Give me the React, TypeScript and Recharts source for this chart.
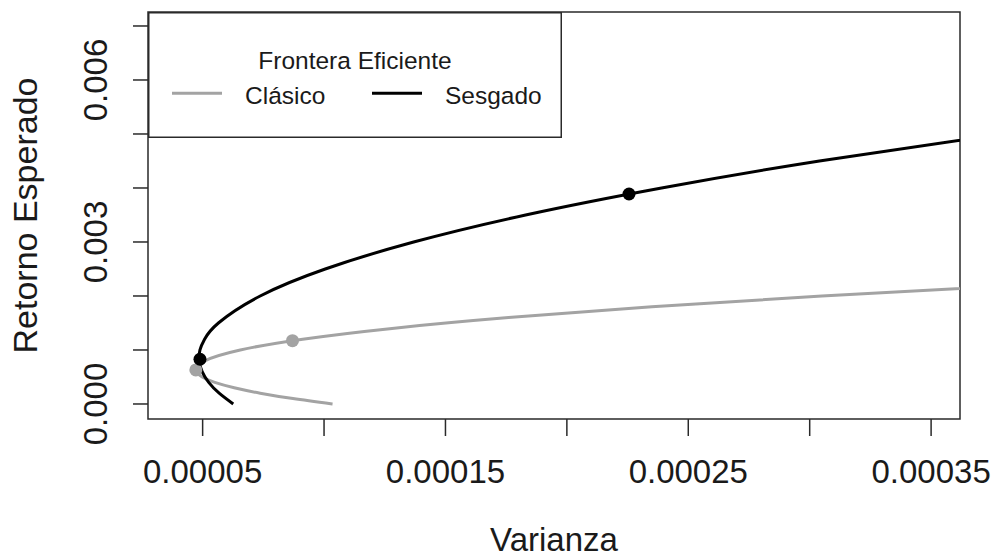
import React from "react";
import { ComposedChart, Line, Scatter, XAxis, YAxis, Legend, ReferenceArea } from "recharts";

// Frontera eficiente: [varianza, retorno esperado]
const clasicoVar = [0.0001035, 0.0000872, 0.0000737, 0.000063, 0.000055, 0.0000498, 0.0000472, 0.0000509, 0.0000655, 0.0000912, 0.000128, 0.000176, 0.000235, 0.000305, 0.000386];
const clasicoRet = [0, 0.0001, 0.0002, 0.0003, 0.0004, 0.0005, 0.00063, 0.0008, 0.001, 0.0012, 0.0014, 0.0016, 0.0018, 0.002, 0.0022];

const sesgadoVar = [0.0000626, 0.0000568, 0.0000525, 0.0000498, 0.0000486, 0.0000489, 0.0000508, 0.0000565, 0.0000737, 0.0001005, 0.0001369, 0.000183, 0.000239, 0.000304, 0.000379];
const sesgadoRet = [0, 0.0002, 0.0004, 0.0006, 0.0008, 0.001, 0.0012, 0.0015, 0.002, 0.0025, 0.003, 0.0035, 0.004, 0.0045, 0.005];

// carteras marcadas (mínima varianza y tangente)
const clasicoPtsVar = [0.0000472, 0.000087];
const clasicoPtsRet = [0.00063, 0.001172];
const sesgadoPtsVar = [0.0000489, 0.0002256];
const sesgadoPtsRet = [0.000828, 0.003889];

const xTicks = [0.00005, 0.0001, 0.00015, 0.0002, 0.00025, 0.0003, 0.00035];
const xTickLabels = ["0.00005", "", "0.00015", "", "0.00025", "", "0.00035"];
const yTicks = [0, 0.001, 0.002, 0.003, 0.004, 0.005, 0.006, 0.007];
const yTickLabels = ["0.000", "", "", "0.003", "", "", "0.006", ""];

const seriesNames = ["Clásico", "Sesgado"];
const legendTitle = "Frontera Eficiente";

const X_MIN = 0.0000275;
const X_MAX = 0.0003619;
const Y_MIN = -0.000278;
const Y_MAX = 0.007259;

const GRAY = "#a3a3a3";
const BLACK = "#000000";
const AXIS = "#2a2a2a";
const FONT = "'Liberation Sans', Arial, Helvetica, sans-serif";

const toPoints = (xs: number[], ys: number[]) => xs.map((x, i) => ({ x, y: ys[i] }));

const clasicoData = toPoints(clasicoVar, clasicoRet);
const sesgadoData = toPoints(sesgadoVar, sesgadoRet);
const clasicoPts = toPoints(clasicoPtsVar, clasicoPtsRet);
const sesgadoPts = toPoints(sesgadoPtsVar, sesgadoPtsRet);

function XTick(props: any) {
  const { x, y, payload } = props;
  const label = xTickLabels[xTicks.indexOf(payload.value)];
  if (!label) return null;
  return (
    <text x={x} y={y + 47} textAnchor="middle" fontSize={33} fontFamily={FONT} fill="#1a1a1a">
      {label}
    </text>
  );
}

function YTick(props: any) {
  const { x, y, payload } = props;
  const label = yTickLabels[yTicks.indexOf(payload.value)];
  if (!label) return null;
  const bx = x - 26;
  return (
    <text x={bx} y={y} transform={`rotate(-90, ${bx}, ${y})`} textAnchor="middle" fontSize={33} fontFamily={FONT} fill="#1a1a1a">
      {label}
    </text>
  );
}

const dot = (color: string) => (p: any) => <circle cx={p.cx} cy={p.cy} r={6.5} fill={color} />;

function LegendBox(props: any) {
  const items = (props.payload || []).filter((d: any) => d.type !== "none");
  return (
    <svg width={414} height={126} style={{ display: "block" }}>
      <rect x={0.75} y={0.75} width={412.5} height={124.5} fill="#fff" stroke={AXIS} strokeWidth={1.5} />
      <text x={207} y={57.3} textAnchor="middle" fontSize={24.5} fontFamily={FONT} fill="#1a1a1a">
        {legendTitle}
      </text>
      {items.map((d: any, i: number) => (
        <g key={d.value}>
          <line x1={24 + i * 200} x2={74 + i * 200} y1={81.3} y2={81.3} stroke={d.color} strokeWidth={3} />
          <text x={97 + i * 200} y={92} fontSize={24.5} fontFamily={FONT} fill="#1a1a1a">
            {d.value}
          </text>
        </g>
      ))}
    </svg>
  );
}

export default function App() {
  return (
    <div style={{ position: "absolute", left: 0, top: 0, width: 993, height: 558, background: "#fff" }}>
      <ComposedChart width={993} height={558} margin={{ top: 12, right: 33, bottom: 0, left: 0 }}>
        <XAxis
          type="number"
          dataKey="x"
          domain={[X_MIN, X_MAX]}
          allowDataOverflow
          ticks={xTicks}
          interval={0}
          height={139}
          tickSize={17}
          tickMargin={0}
          axisLine={false}
          tickLine={{ stroke: AXIS, strokeWidth: 1.5 }}
          tick={<XTick />}
          label={(p: any) => {
            const vb = p.viewBox || { x: 148, y: 419, width: 812 };
            return (
              <text x={vb.x + vb.width / 2} y={vb.y + 132} textAnchor="middle" fontSize={33} fontFamily={FONT} fill="#1a1a1a">
                Varianza
              </text>
            );
          }}
        />
        <YAxis
          type="number"
          dataKey="y"
          domain={[Y_MIN, Y_MAX]}
          allowDataOverflow
          ticks={yTicks}
          interval={0}
          width={148}
          tickSize={15}
          tickMargin={0}
          axisLine={false}
          tickLine={{ stroke: AXIS, strokeWidth: 1.5 }}
          tick={<YTick />}
          label={(p: any) => {
            const vb = p.viewBox || { x: 0, y: 12, height: 407 };
            const cy = vb.y + vb.height / 2;
            return (
              <text x={37} y={cy} transform={`rotate(-90, 37, ${cy})`} textAnchor="middle" fontSize={34} fontFamily={FONT} fill="#1a1a1a">
                Retorno Esperado
              </text>
            );
          }}
        />
        <ReferenceArea x1={X_MIN} x2={X_MAX} y1={Y_MIN} y2={Y_MAX} fill="none" stroke={AXIS} strokeWidth={1.5} ifOverflow="visible" />
        <Line data={clasicoData} dataKey="y" name={seriesNames[0]} type="natural" stroke={GRAY} strokeWidth={3} dot={false} activeDot={false} isAnimationActive={false} />
        <Scatter data={clasicoPts} dataKey="y" legendType="none" shape={dot(GRAY)} isAnimationActive={false} />
        <Line data={sesgadoData} dataKey="y" name={seriesNames[1]} type="natural" stroke={BLACK} strokeWidth={3} dot={false} activeDot={false} isAnimationActive={false} />
        <Scatter data={sesgadoPts} dataKey="y" legendType="none" shape={dot(BLACK)} isAnimationActive={false} />
        <Legend
          layout="horizontal"
          verticalAlign="middle"
          align="center"
          content={<LegendBox />}
          wrapperStyle={{ left: 148, top: 12, width: 414, height: 126, right: "auto", bottom: "auto" }}
        />
      </ComposedChart>
    </div>
  );
}
